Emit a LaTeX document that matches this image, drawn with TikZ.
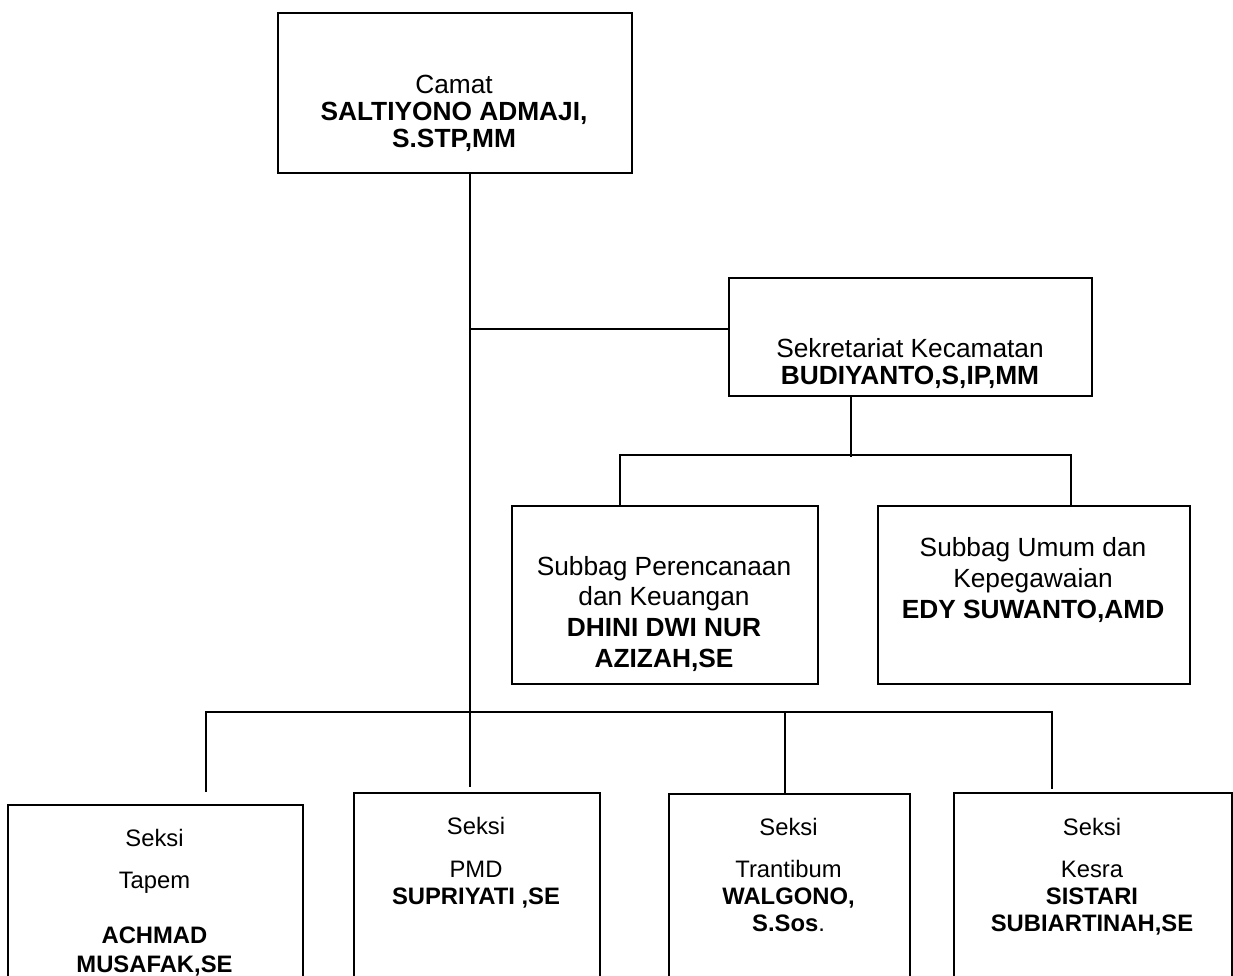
\documentclass[tikz,border=0pt]{standalone}
\usepackage{fontspec}
\setmainfont{Liberation Sans}
\begin{document}
\begin{tikzpicture}[x=1pt,y=-1pt,
  box/.style={draw,line width=1.8pt,rectangle,inner sep=0pt,anchor=north west},
  conn/.style={line width=1.8pt},
  up/.style={anchor=base,inner sep=0pt,font=\fontsize{26.3}{30}\selectfont},
  upb/.style={anchor=base,inner sep=0pt,font=\fontsize{26.3}{30}\selectfont\bfseries},
  lo/.style={anchor=base,inner sep=0pt,font=\fontsize{23.8}{28}\selectfont},
  lob/.style={anchor=base,inner sep=0pt,font=\fontsize{23.8}{28}\selectfont\bfseries}]
\clip (0,0) rectangle (1233,975);
\fill[white] (0,0) rectangle (1233,975);

% boxes
\node[box,minimum width=354pt,minimum height=160pt] (camat) at (277,12) {};
\node[box,minimum width=363pt,minimum height=118pt] (sek) at (728,277) {};
\node[box,minimum width=306pt,minimum height=178pt] (sub1) at (511,505) {};
\node[box,minimum width=312pt,minimum height=178pt] (sub2) at (877,505) {};
\node[box,minimum width=295pt,minimum height=300pt] (tapem) at (7,804) {};
\node[box,minimum width=246pt,minimum height=300pt] (pmd) at (353,792) {};
\node[box,minimum width=241pt,minimum height=300pt] (tran) at (668,793) {};
\node[box,minimum width=278pt,minimum height=300pt] (kesra) at (953,792) {};

% texts
\node[up]  (c1) at (454,93)  {Camat};
\node[upb] (c2) at (454,120) {SALTIYONO ADMAJI,};
\node[upb] (c3) at (454,147) {S.STP,MM};

\node[up]  (s1) at (910,357) {Sekretariat Kecamatan};
\node[upb] (s2) at (910,384) {BUDIYANTO,S,IP,MM};

\node[up]  (a1) at (664,575) {Subbag Perencanaan};
\node[up]  (a2) at (664,605) {dan Keuangan};
\node[upb] (a3) at (664,636) {DHINI DWI NUR};
\node[upb] (a4) at (664,667) {AZIZAH,SE};

\node[up]  (b1) at (1033,556) {Subbag Umum dan};
\node[up]  (b2) at (1033,587) {Kepegawaian};
\node[upb] (b3) at (1033,618) {EDY SUWANTO,AMD};

\node[lo]  (t1) at (154.5,846) {Seksi};
\node[lo]  (t2) at (154.5,888) {Tapem};
\node[lob] (t3) at (154.5,943) {ACHMAD};
\node[lob] (t4) at (154.5,972) {MUSAFAK,SE};

\node[lo]  (p1) at (476,834) {Seksi};
\node[lo]  (p2) at (476,877) {PMD};
\node[lob] (p3) at (476,904) {SUPRIYATI ,SE};

\node[lo]  (r1) at (788.5,835) {Seksi};
\node[lo]  (r2) at (788.5,877) {Trantibum};
\node[lob] (r3) at (788.5,904) {WALGONO,};
\node[lo]  (r4) at (788.5,931) {\textbf{S.Sos}.};

\node[lo]  (k1) at (1092,835) {Seksi};
\node[lo]  (k2) at (1092,877) {Kesra};
\node[lob] (k3) at (1092,904) {SISTARI};
\node[lob] (k4) at (1092,931) {SUBIARTINAH,SE};

% junctions
\coordinate (sj) at (470,329);
\coordinate (bj) at (470,712);
\coordinate (pe) at (470,787);
\coordinate (sekj) at (851,457);
\coordinate (sl) at (620,455);
\coordinate (sr) at (1071,455);
\coordinate (bl) at (206,712);
\coordinate (br) at (1052,712);
\coordinate (bt) at (785,712);
\coordinate (te) at (206,792);
\coordinate (ke) at (1052,789);

% connectors
\draw[conn] (camat.south -| sj) -- (sj) -- (bj) -- (pe);
\draw[conn] (sj) -- (sek.west |- sj);
\draw[conn] (sek.south -| sekj) -- (sekj);
\draw[conn] (sub1.north -| sl) -- (sl) -- (sr) -- (sub2.north -| sr);
\draw[conn] (te) -- (bl) -- (br) -- (ke);
\draw[conn] (bt) -- (tran.north -| bt);
\end{tikzpicture}
\end{document}
